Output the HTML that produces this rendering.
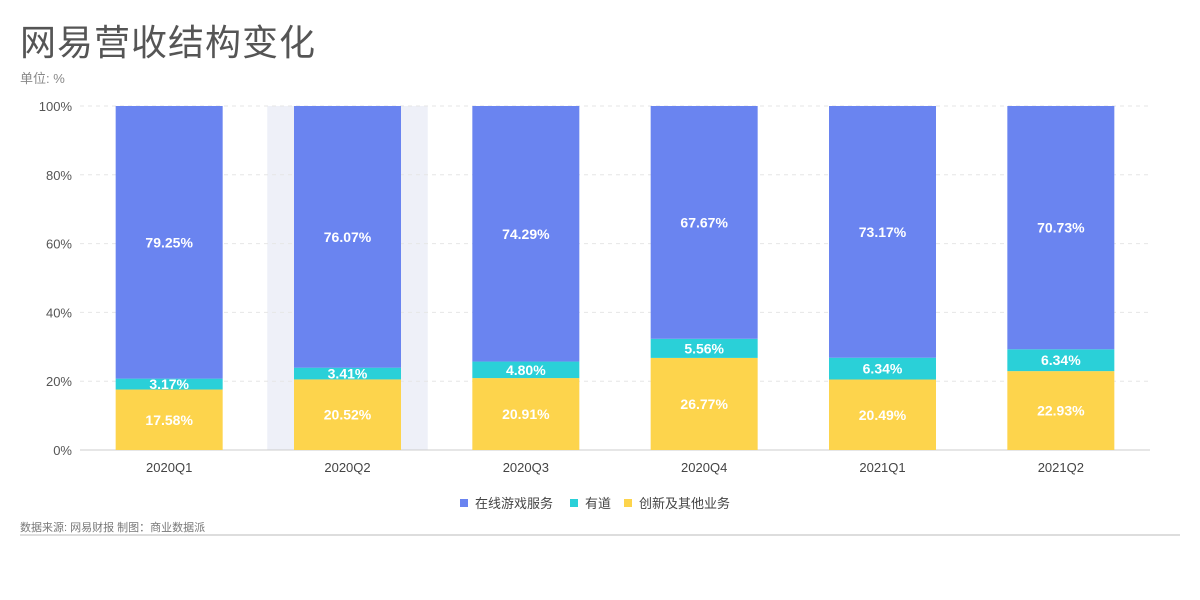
<!DOCTYPE html>
<html><head><meta charset="utf-8">
<style>
body{margin:0;width:1200px;height:600px;background:#fff;overflow:hidden;font-family:"Liberation Sans","Noto Sans CJK SC",sans-serif;}
#title{position:absolute;left:20px;top:14px;font-size:36px;color:#555;letter-spacing:1px;}
#unit{position:absolute;left:20px;top:68px;font-size:13px;color:#888;}
#src{position:absolute;left:20px;top:519px;font-size:11px;color:#777;}
#rule{position:absolute;left:20px;top:534px;width:1160px;height:2px;background:#ddd;}
svg{position:absolute;left:0;top:0;}
</style></head><body>
<div id="title">网易营收结构变化</div>
<div id="unit">单位: %</div>
<div id="src">数据来源: 网易财报 制图：商业数据派</div>
<div id="rule"></div>
<svg id="chart" width="1200" height="600"></svg>
<script>
const categories=["2020Q1","2020Q2","2020Q3","2020Q4","2021Q1","2021Q2"];
const innovation=[17.58,20.52,20.91,26.77,20.49,22.93];
const youdao=[3.17,3.41,4.80,5.56,6.34,6.34];
const games=[79.25,76.07,74.29,67.67,73.17,70.73];
const yTicks=[0,20,40,60,80,100];
const seriesNames=["在线游戏服务","有道","创新及其他业务"];
const colors=["#6a84f0","#2ad0d8","#fdd44c"];
const NS="http://www.w3.org/2000/svg";
const svg=document.getElementById('chart');
const x0=80,x1=1150,y0=450,y1=106,band=(x1-x0)/categories.length,bw=107;
const yS=v=>y0-(v/100)*(y0-y1);
const xC=i=>x0+band*(i+0.5);
function mk(t,a){const e=document.createElementNS(NS,t);for(const k in a)e.setAttribute(k,a[k]);svg.appendChild(e);return e;}
let hb=mk('rect',{x:xC(1)-band*0.45,y:y1,width:band*0.9,height:y0-y1,fill:'#eef0f8'});


yTicks.forEach(t=>{
  const y=yS(t);
  let l=mk('line',{x1:x0,x2:x1,y1:y,y2:y,stroke:t==0?'#ccc':'#e6e6e6','stroke-dasharray':t==0?'':'4,4'});
  
  
  let tx=mk('text',{x:x0-8,y:y+5,'text-anchor':'end','font-size':13,fill:'#555'});tx.textContent=t+'%';
  
  
});
categories.forEach((c,i)=>{
  const segs=[[innovation[i],colors[2]],[youdao[i],colors[1]],[games[i],colors[0]]];
  let base=0;
  segs.forEach(([v,col],k)=>{
    const r=mk('rect',{x:xC(i)-bw/2,y:yS(base+v),width:bw,height:yS(base)-yS(base+v),fill:col});
    
    
    const t=mk('text',{x:xC(i),y:(yS(base)+yS(base+v))/2+5,'text-anchor':'middle','font-size':14,'font-weight':'bold',fill:'#fff'});
    t.textContent=v.toFixed(2)+'%';
    
    
    base+=v;
  });
  const tx=mk('text',{x:xC(i),y:y0+22,'text-anchor':'middle','font-size':13,fill:'#444'});tx.textContent=c;
  
  
});
const lx=[460,570,624];
seriesNames.forEach((n,k)=>{
  const r=mk('rect',{x:lx[k],y:499,width:8,height:8,fill:colors[k]});
  
  
  const t=mk('text',{x:lx[k]+15,y:508,'font-size':13,fill:'#444'});t.textContent=n;
  
  
});
</script>
</body></html>
